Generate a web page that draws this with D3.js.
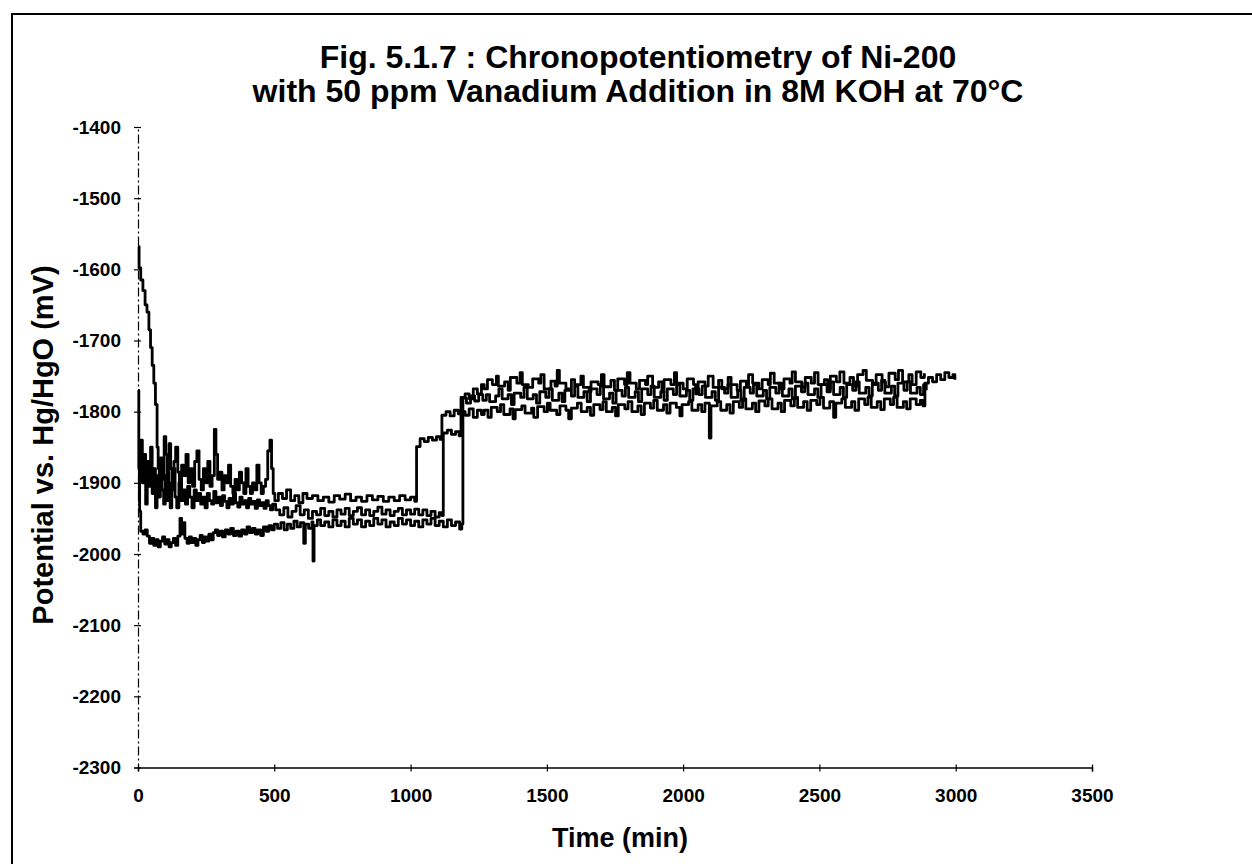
<!DOCTYPE html>
<html>
<head>
<meta charset="utf-8">
<title>Fig. 5.1.7 Chronopotentiometry</title>
<script src="https://cdn.jsdelivr.net/npm/d3@7"></script>
<style>
    body { margin: 0; background: #fff; }
    svg text { font-family: "Liberation Sans", Arial, sans-serif; font-weight: bold; fill: #000; }
</style>
</head>
<body>
<div id="plot"></div>
<script>
// chart text
const titleLines = [
    "Fig. 5.1.7 : Chronopotentiometry of Ni-200",
    "with 50 ppm Vanadium Addition in 8M KOH at 70°C"
];
const xLabel = "Time (min)";
const yLabel = "Potential vs. Hg/HgO (mV)";

// axis ticks
const xTicks = [0, 500, 1000, 1500, 2000, 2500, 3000, 3500];
const yTicks = [-1400, -1500, -1600, -1700, -1800, -1900, -2000, -2100, -2200, -2300];

// run 1: starts high, jumps first (~1020 min), upper band afterwards
const runA = [
    [0, -1568], [4, -1598], [10, -1615], [18, -1630], [26, -1650], [33, -1660], [40, -1685],
    [46, -1710], [52, -1735], [58, -1760], [64, -1790], [70, -1850], [74, -1880],
    [78, -1905], [84, -1870], [90, -1895], [96, -1835], [102, -1860], [108, -1900], [114, -1845],
    [120, -1880], [126, -1910], [132, -1870], [138, -1850], [146, -1885], [152, -1915], [160, -1875],
    [168, -1890], [176, -1860], [184, -1900], [192, -1880], [200, -1905], [208, -1870], [216, -1855],
    [224, -1895], [232, -1910], [240, -1880], [248, -1900], [256, -1870], [264, -1905], [272, -1890],
    [280, -1825], [286, -1860], [292, -1895], [300, -1885], [308, -1910], [316, -1890], [324, -1900],
    [332, -1875], [340, -1905], [348, -1915], [356, -1895], [364, -1910], [372, -1885], [380, -1900],
    [388, -1915], [396, -1880], [404, -1905], [412, -1915], [420, -1900], [428, -1910], [436, -1875],
    [444, -1900], [452, -1915], [460, -1905], [468, -1895], [476, -1855], [484, -1840], [490, -1880],
    [496, -1915], [502, -1925], [515, -1915], [530, -1922], [545, -1910], [560, -1925], [575, -1918],
    [590, -1928], [605, -1915], [620, -1922], [640, -1918], [660, -1925], [680, -1920], [700, -1927],
    [720, -1918], [740, -1923], [760, -1916], [780, -1925], [800, -1920], [820, -1926], [840, -1918],
    [860, -1924], [880, -1919], [900, -1926], [920, -1920], [940, -1925], [960, -1918], [980, -1924],
    [1000, -1920], [1015, -1926], [1022, -1849], [1035, -1838], [1050, -1842], [1065, -1836],
    [1080, -1840], [1095, -1835], [1108, -1839], [1115, -1805], [1130, -1800], [1145, -1806],
    [1160, -1798], [1175, -1803], [1185, -1780], [1200, -1775], [1215, -1782], [1230, -1768],
    [1245, -1775], [1260, -1762],
    [1270, -1768], [1282, -1755], [1300, -1762], [1315, -1750], [1322, -1764], [1345, -1758],
    [1358, -1770], [1366, -1752], [1390, -1760], [1402, -1745], [1410, -1762], [1432, -1766],
    [1448, -1754], [1470, -1760], [1478, -1748], [1490, -1768], [1515, -1757], [1530, -1764],
    [1538, -1742], [1546, -1760], [1570, -1768], [1590, -1755], [1602, -1762], [1625, -1750],
    [1634, -1766], [1655, -1772], [1662, -1758], [1688, -1762], [1700, -1748], [1710, -1765],
    [1735, -1756], [1748, -1770], [1760, -1754], [1785, -1762], [1795, -1745], [1805, -1760],
    [1828, -1768], [1840, -1756], [1862, -1762], [1870, -1750], [1888, -1766], [1910, -1758],
    [1922, -1772], [1930, -1755], [1955, -1762], [1968, -1745], [1976, -1760], [2000, -1768],
    [2015, -1754], [2038, -1762], [2046, -1775], [2055, -1758], [2080, -1764], [2092, -1750],
    [2110, -1766], [2130, -1756], [2142, -1768], [2165, -1752], [2176, -1762], [2198, -1770],
    [2210, -1757], [2232, -1764], [2240, -1748], [2255, -1760], [2278, -1768], [2290, -1755],
    [2312, -1762], [2320, -1746], [2334, -1760], [2356, -1768], [2370, -1754], [2392, -1760],
    [2400, -1744], [2412, -1758], [2435, -1766], [2448, -1752], [2470, -1760], [2482, -1745],
    [2495, -1762], [2518, -1755], [2530, -1768], [2540, -1750], [2562, -1758], [2575, -1744],
    [2590, -1760], [2612, -1752], [2625, -1764], [2640, -1748], [2660, -1742], [2672, -1756],
    [2695, -1762], [2708, -1748], [2730, -1758], [2742, -1765], [2755, -1746], [2778, -1755],
    [2790, -1742], [2805, -1758], [2828, -1748], [2840, -1762], [2855, -1744], [2872, -1752],
    [2885, -1746]
];

// run 2: jumps at ~1120 min, lower band, runs on to ~3000 min
const runB = [
    [0, -1925], [5, -1880], [10, -1840], [16, -1900], [22, -1860], [28, -1930], [34, -1870],
    [40, -1905], [46, -1850], [52, -1915], [58, -1880], [64, -1935], [70, -1890], [76, -1920],
    [82, -1865], [88, -1910], [94, -1930], [100, -1890], [106, -1925], [112, -1900], [118, -1935],
    [124, -1905], [130, -1880], [136, -1920], [142, -1935], [150, -1900], [158, -1925], [166, -1910],
    [174, -1930], [182, -1905], [190, -1920], [198, -1935], [206, -1910], [214, -1925], [222, -1915],
    [230, -1930], [238, -1920], [246, -1935], [254, -1915], [262, -1925], [270, -1930], [278, -1912],
    [286, -1928], [294, -1920], [302, -1932], [310, -1918], [318, -1926], [326, -1935], [334, -1922],
    [342, -1930], [350, -1915], [358, -1928], [366, -1934], [374, -1920], [382, -1930], [390, -1925],
    [398, -1935], [406, -1922], [414, -1930], [422, -1926], [430, -1936], [438, -1924], [446, -1932],
    [454, -1928], [462, -1936], [470, -1925], [478, -1932], [486, -1938], [494, -1930],
    [505, -1938], [520, -1945], [535, -1935], [550, -1948], [565, -1940], [580, -1932], [595, -1945],
    [610, -1938], [625, -1950], [640, -1940], [655, -1945], [670, -1936], [685, -1946], [700, -1940],
    [715, -1948], [730, -1938], [745, -1944], [760, -1936], [775, -1946], [790, -1940], [805, -1935],
    [820, -1945], [835, -1938], [850, -1946], [865, -1940], [880, -1934], [895, -1944], [910, -1938],
    [925, -1946], [940, -1940], [955, -1936], [970, -1945], [985, -1938], [1000, -1944], [1015, -1937],
    [1030, -1945], [1045, -1938], [1060, -1946], [1075, -1940], [1090, -1948], [1105, -1942],
    [1115, -1946], [1120, -1830], [1135, -1826], [1150, -1832], [1165, -1828], [1178, -1834],
    [1185, -1800], [1200, -1805], [1215, -1796], [1230, -1808], [1245, -1798], [1260, -1804],
    [1270, -1798], [1284, -1808], [1296, -1794], [1318, -1800], [1330, -1790], [1342, -1804],
    [1365, -1796], [1376, -1810], [1384, -1797], [1408, -1792], [1420, -1802], [1444, -1795],
    [1452, -1808], [1466, -1793], [1490, -1800], [1502, -1788], [1512, -1798], [1536, -1804],
    [1548, -1792], [1570, -1798], [1580, -1810], [1590, -1795], [1612, -1788], [1626, -1800],
    [1648, -1794], [1660, -1805], [1672, -1790], [1695, -1797], [1706, -1786], [1718, -1800],
    [1740, -1794], [1752, -1806], [1762, -1790], [1786, -1796], [1798, -1786], [1812, -1800],
    [1834, -1792], [1846, -1804], [1858, -1788], [1880, -1795], [1892, -1784], [1905, -1798],
    [1928, -1790], [1940, -1802], [1952, -1788], [1975, -1794], [1988, -1806], [1996, -1790],
    [2020, -1786], [2032, -1798], [2055, -1790], [2068, -1800], [2080, -1788], [2096, -1837],
    [2102, -1792], [2125, -1786], [2138, -1798], [2160, -1790], [2172, -1802], [2184, -1786],
    [2206, -1794], [2218, -1782], [2230, -1796], [2254, -1788], [2266, -1800], [2278, -1785],
    [2300, -1792], [2312, -1782], [2326, -1796], [2348, -1788], [2360, -1800], [2372, -1784],
    [2395, -1792], [2408, -1780], [2420, -1794], [2442, -1786], [2455, -1798], [2468, -1784],
    [2490, -1790], [2502, -1780], [2515, -1795], [2538, -1786], [2552, -1808], [2560, -1788],
    [2582, -1782], [2595, -1794], [2618, -1786], [2630, -1798], [2644, -1782], [2666, -1790],
    [2678, -1780], [2690, -1794], [2712, -1786], [2725, -1797], [2738, -1782], [2760, -1790],
    [2772, -1780], [2785, -1794], [2808, -1786], [2820, -1796], [2833, -1782], [2855, -1790],
    [2870, -1784], [2880, -1792],
    [2887, -1760], [2900, -1752], [2915, -1758], [2930, -1748], [2945, -1755], [2960, -1745],
    [2975, -1752], [2990, -1748], [2997, -1755]
];

// run 3: lowest start, jumps last (~1190 min), middle band
const runC = [
    [0, -1770], [3, -1880], [6, -1940], [10, -1968], [18, -1972], [26, -1966], [34, -1975],
    [42, -1985], [50, -1978], [58, -1988], [66, -1980], [74, -1990], [82, -1982], [90, -1976],
    [98, -1986], [106, -1980], [114, -1990], [122, -1984], [130, -1978], [138, -1988], [146, -1975],
    [154, -1950], [160, -1972], [166, -1956], [172, -1978], [180, -1985], [188, -1976], [196, -1984],
    [204, -1978], [212, -1988], [220, -1980], [228, -1974], [236, -1984], [244, -1976], [252, -1982],
    [260, -1972], [268, -1980], [276, -1970], [284, -1966], [292, -1974], [300, -1968], [310, -1976],
    [320, -1966], [330, -1972], [340, -1964], [350, -1974], [360, -1968], [370, -1975], [380, -1966],
    [390, -1972], [400, -1962], [410, -1970], [420, -1964], [430, -1972], [440, -1966], [450, -1974],
    [460, -1962], [470, -1968], [480, -1960], [490, -1966], [500, -1958], [512, -1964], [524, -1956],
    [536, -1966], [548, -1958], [560, -1964], [572, -1954], [584, -1962], [596, -1956], [608, -1985],
    [614, -1958], [626, -1964], [638, -1955], [642, -2010], [646, -1960], [658, -1952], [670, -1960],
    [685, -1955], [700, -1962], [715, -1952], [730, -1960], [745, -1954], [760, -1962], [775, -1950],
    [790, -1958], [805, -1952], [820, -1962], [835, -1954], [850, -1960], [865, -1950], [880, -1958],
    [895, -1952], [910, -1962], [925, -1955], [940, -1960], [955, -1950], [970, -1958], [985, -1952],
    [1000, -1960], [1015, -1954], [1030, -1962], [1045, -1952], [1060, -1958], [1075, -1950],
    [1090, -1960], [1105, -1954], [1120, -1962], [1135, -1952], [1150, -1960], [1165, -1955],
    [1180, -1965], [1188, -1958], [1192, -1781], [1205, -1788], [1220, -1778], [1235, -1785],
    [1250, -1776], [1265, -1784],
    [1278, -1776], [1290, -1786], [1312, -1778], [1324, -1768], [1336, -1782], [1358, -1776],
    [1370, -1790], [1380, -1774], [1404, -1780], [1416, -1766], [1428, -1782], [1450, -1776],
    [1462, -1788], [1474, -1772], [1496, -1780], [1508, -1768], [1520, -1784], [1544, -1774],
    [1556, -1786], [1566, -1770], [1590, -1778], [1602, -1764], [1614, -1780], [1636, -1772],
    [1648, -1786], [1660, -1768], [1684, -1776], [1696, -1764], [1708, -1782], [1730, -1774],
    [1742, -1788], [1754, -1770], [1776, -1778], [1788, -1766], [1800, -1780], [1824, -1772],
    [1836, -1786], [1848, -1768], [1870, -1776], [1882, -1764], [1894, -1780], [1918, -1772],
    [1930, -1784], [1942, -1768], [1964, -1776], [1976, -1762], [1988, -1778], [2012, -1770],
    [2024, -1784], [2036, -1768], [2058, -1776], [2070, -1764], [2082, -1780], [2106, -1772],
    [2118, -1784], [2130, -1766], [2152, -1774], [2164, -1762], [2176, -1780], [2200, -1770],
    [2212, -1784], [2224, -1766], [2246, -1774], [2258, -1762], [2270, -1778], [2294, -1770],
    [2306, -1782], [2318, -1766], [2340, -1774], [2352, -1760], [2364, -1778], [2388, -1768],
    [2400, -1782], [2412, -1764], [2434, -1772], [2446, -1760], [2458, -1776], [2482, -1768],
    [2494, -1780], [2506, -1762], [2528, -1772], [2540, -1758], [2552, -1776], [2576, -1766],
    [2588, -1780], [2600, -1762], [2622, -1770], [2634, -1758], [2646, -1774], [2670, -1766],
    [2682, -1778], [2694, -1760], [2716, -1770], [2728, -1756], [2740, -1774], [2764, -1764],
    [2776, -1778], [2788, -1760], [2810, -1770], [2822, -1758], [2834, -1774], [2858, -1766],
    [2870, -1776], [2882, -1762], [2892, -1770]
];

const runs = [runA, runB, runC];


class ChronoPlot {
    constructor(runs) {
        this.runs = runs;
        this.width = 1252;
        this.height = 864;
    }

    render(div) {
        this.svg = d3.select(div)
            .append("svg")
            .attr("width", this.width)
            .attr("height", this.height)
            .attr("role", "img")
            .attr("aria-label", "Chronopotentiometry of Ni-200.");

        this.x = d3.scaleLinear().domain([0, 3500]).range([138, 1092]);
        this.y = d3.scaleLinear().domain([-2300, -1400]).range([767.5, 127]);

        this.build_frame();
        this.build_title();
        this.build_axes();
        this.build_lines();
    }

    build_frame() {
        // scanned page border, only top and left edges are visible
        this.svg.append("path")
            .attr("d", "M12,864 L12,14 L1252,14")
            .attr("fill", "none")
            .attr("stroke", "#000")
            .attr("stroke-width", 2);
    }

    build_title() {
        this.svg.append("g")
            .selectAll("text")
            .data(titleLines)
            .join("text")
            .attr("x", 638)
            .attr("y", (d, i) => 68 + i * 34)
            .attr("text-anchor", "middle")
            .attr("font-size", 32)
            .text(d => d);
    }

    build_axes() {
        const fmt = d => String(d);

        const xAxis = this.svg.append("g")
            .attr("transform", `translate(0,${this.y(-2300)})`)
            .call(d3.axisBottom(this.x).tickValues(xTicks).tickFormat(fmt).tickSize(4).tickPadding(17));
        xAxis.select(".domain").attr("stroke-width", 1.5);
        xAxis.selectAll(".tick line").attr("y1", -3).attr("stroke-width", 1.2);
        xAxis.selectAll(".tick text")
            .attr("font-size", 19)
            .attr("font-family", null);

        const yAxis = this.svg.append("g")
            .attr("transform", `translate(${this.x(0)},0)`)
            .call(d3.axisLeft(this.y).tickValues(yTicks).tickFormat(fmt).tickSize(4).tickPadding(13));
        yAxis.select(".domain")
            .attr("stroke-width", 1.2)
            .attr("stroke-dasharray", "9,3,2,3");
        yAxis.selectAll(".tick line").attr("x1", 3).attr("stroke-width", 1.2);
        yAxis.selectAll(".tick text")
            .attr("font-size", 19)
            .attr("font-family", null);

        this.svg.append("text")
            .attr("x", 620)
            .attr("y", 847)
            .attr("text-anchor", "middle")
            .attr("font-size", 27)
            .text(xLabel);

        this.svg.append("text")
            .attr("transform", "translate(53,445) rotate(-90)")
            .attr("text-anchor", "middle")
            .attr("font-size", 29)
            .text(yLabel);
    }

    build_lines() {
        const line = d3.line()
            .x(d => this.x(d[0]))
            .y(d => this.y(d[1]))
            .curve(d3.curveStepAfter);

        this.svg.append("g")
            .selectAll("path")
            .data(this.runs)
            .join("path")
            .attr("d", line)
            .attr("fill", "none")
            .attr("stroke", "#000")
            .attr("stroke-width", 2.8)
            .attr("stroke-linejoin", "round");
    }
}

new ChronoPlot(runs).render("#plot");
</script>
</body>
</html>
